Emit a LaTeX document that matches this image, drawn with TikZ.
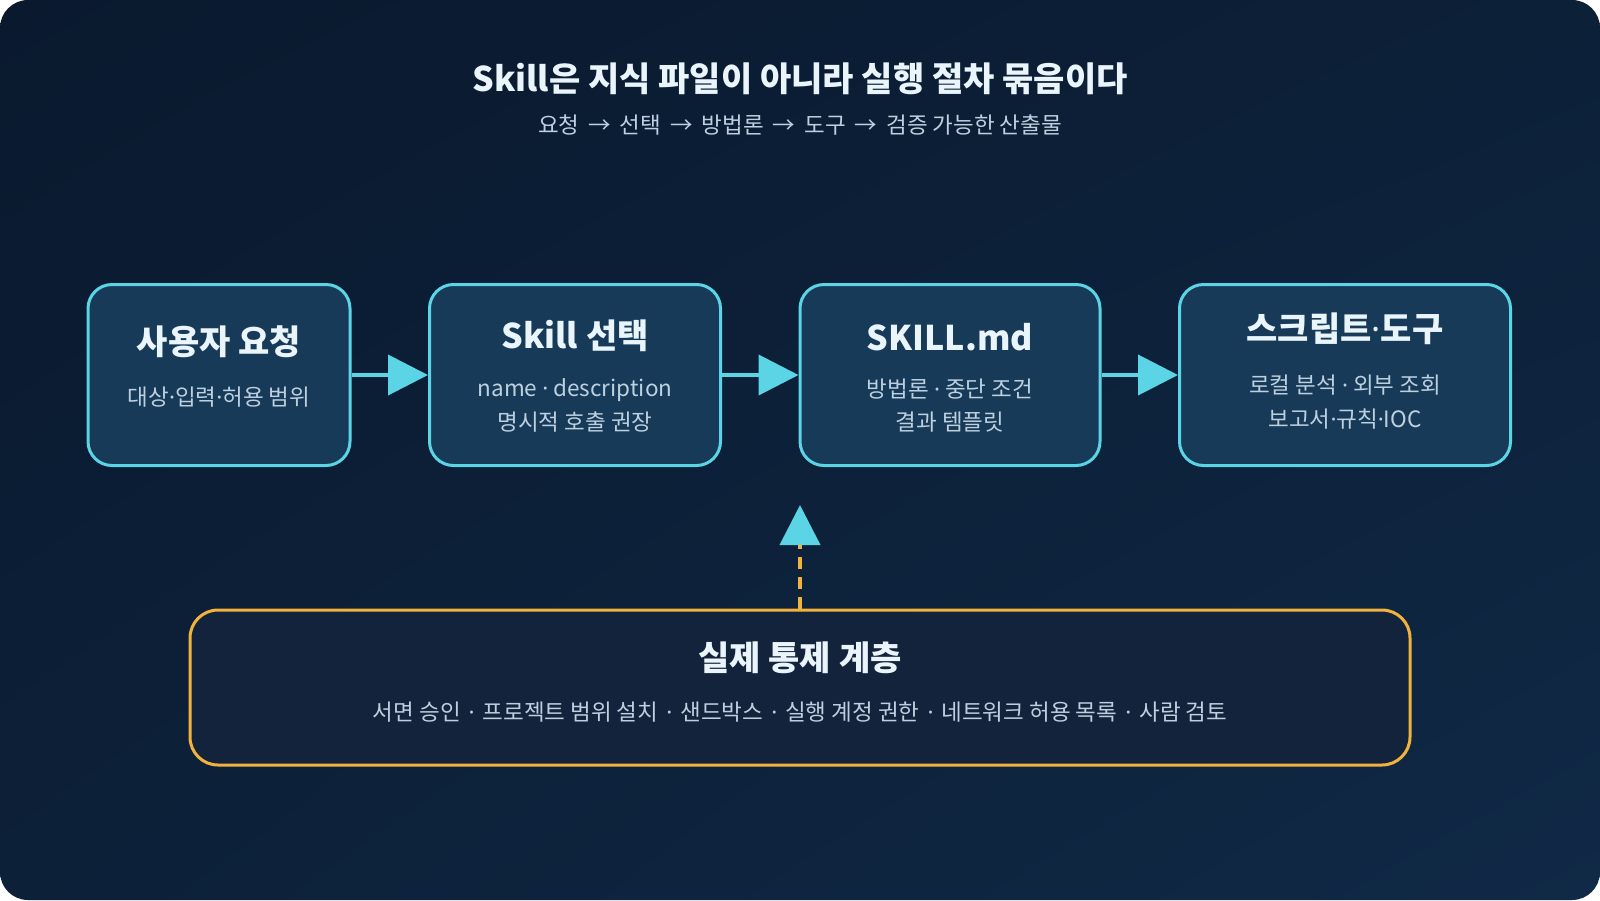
\documentclass[tikz,border=0pt]{standalone}
\usepackage{fontspec}
\setmainfont{Noto Sans CJK KR}
\newfontfamily\latinfont{Noto Sans}
\usetikzlibrary{arrows.meta,shadings}

\definecolor{bgtop}{HTML}{0A192E}
\definecolor{bgmid}{HTML}{0C2038}
\definecolor{bgbot}{HTML}{102946}
\definecolor{stagefill}{HTML}{173A58}
\definecolor{cyanline}{HTML}{5BD4E6}
\definecolor{ctrlfill}{HTML}{14233C}
\definecolor{ctrlline}{HTML}{F2B23E}
\definecolor{headtext}{HTML}{EAF5FB}
\definecolor{softtext}{HTML}{BDD0E0}

% narrow middle dot, spaced dot and spaced arrow
\newcommand{\mdot}{{\latinfont ·}}
\newcommand{\sdot}{\hspace{8pt}\mdot\hspace{8pt}}
\newcommand{\sarrow}{\hspace{9pt}→\hspace{9pt}}

\begin{document}
\begin{tikzpicture}[x=1pt,y=-1pt,
    stage/.style={draw=cyanline, line width=3pt, fill=stagefill,
        rounded corners=24pt, minimum height=181pt, inner sep=0pt},
    ctrlbox/.style={draw=ctrlline, line width=3pt, fill=ctrlfill,
        rounded corners=28pt, minimum width=1220pt, minimum height=155pt, inner sep=0pt},
    headline/.style={text=headtext, inner sep=0pt, font=\bfseries\fontsize{34}{40}\selectfont},
    stagehead/.style={text=headtext, inner sep=0pt, font=\bfseries\fontsize{34}{40}\selectfont},
    subline/.style={text=softtext, inner sep=0pt, font=\fontsize{22.5}{27}\selectfont},
    flow/.style={draw=cyanline, line width=4pt, -{Triangle[length=40pt,width=40pt]}},
    ctrlflow/.style={draw=ctrlline, line width=4pt, dash pattern=on 12pt off 8pt,
        -{Triangle[length=40pt,width=40pt,color=cyanline]}}
]
\useasboundingbox (0,0) rectangle (1600,900);
\shade[rounded corners=28pt, upper left=bgtop, upper right=bgmid,
    lower left=bgmid, lower right=bgbot] (0,0) rectangle (1600,900);

% heading
\node[headline] (title) at (800,79) {Skill은 지식 파일이 아니라 실행 절차 묶음이다};
\node[subline] (subtitle) at (800,125) {요청\sarrow 선택\sarrow 방법론\sarrow 도구\sarrow 검증 가능한 산출물};

% stages
\node[
    stage,
    minimum width=262pt,
    name=request
] at (219,375) {};
\node[
    stage,
    minimum width=291pt,
    name=select
] at (575,375) {};
\node[
    stage,
    minimum width=300pt,
    name=skillmd
] at (950,375) {};
\node[
    stage,
    minimum width=331pt,
    name=tools
] at (1345,375) {};

\node[stagehead] (requesthead) at (219,342) {사용자 요청};
\node[subline] (requestsub) at (219,397) {대상\mdot 입력\mdot 허용 범위};

\node[stagehead] (selecthead) at (575,336) {Skill 선택};
\node[subline] (selectsuba) at (575,390) {name \mdot{} description};
\node[subline] (selectsubb) at (575,422) {명시적 호출 권장};

\node[stagehead] (skillmdhead) at (950,337) {SKILL.md};
\node[subline] (skillmdsuba) at (950,389) {방법론 \mdot{} 중단 조건};
\node[subline] (skillmdsubb) at (950,422) {결과 템플릿};

\node[stagehead] (toolshead) at (1345,329) {스크립트\mdot 도구};
\node[subline] (toolssuba) at (1345,385) {로컬 분석 \mdot{} 외부 조회};
\node[subline] (toolssubb) at (1345,419) {보고서\mdot 규칙\mdot IOC};

\draw[flow] (request.east) -- (select.west);
\draw[flow] (select.east) -- (skillmd.west);
\draw[flow] (skillmd.east) -- (tools.west);

% control layer
\node[ctrlbox, name=ctrl] at (800,687.5) {};
\node[stagehead] (ctrlhead) at (800,658) {실제 통제 계층};
\node[subline] (ctrlsub) at (800,712) {서면 승인\sdot 프로젝트 범위 설치\sdot 샌드박스\sdot 실행 계정 권한\sdot 네트워크 허용 목록\sdot 사람 검토};

\coordinate (ctrltip) at (800,505);
\draw[ctrlflow] (ctrl.north) -- (ctrltip);
\end{tikzpicture}
\end{document}
